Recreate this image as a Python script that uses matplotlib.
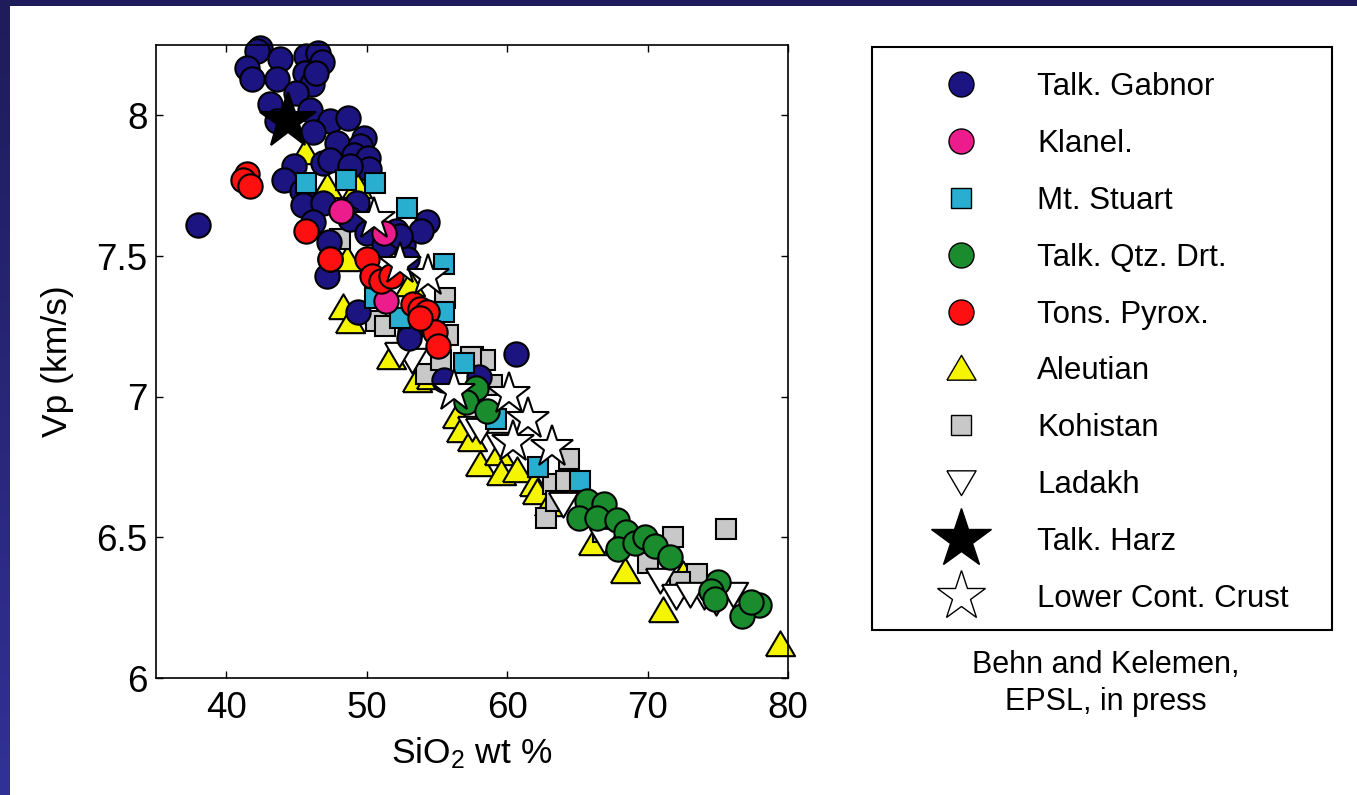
import numpy as np
import matplotlib
matplotlib.use("Agg")
from matplotlib import pyplot as plt
from matplotlib.lines import Line2D
from matplotlib.patches import Rectangle
from matplotlib.ticker import FuncFormatter

plt.rcParams["font.family"] = ["Liberation Sans", "DejaVu Sans"]
plt.rcParams["mathtext.fontset"] = "custom"
plt.rcParams["mathtext.rm"] = "Liberation Sans"
plt.rcParams["mathtext.it"] = "Liberation Sans:italic"

# SiO2 (wt %) and Vp (km/s)
gab_x = [42.4, 42.2, 43.8, 45.7, 46.5, 46.8, 41.5, 41.8, 43.6, 45.6, 46.1, 46.4, 43.1, 45.0,
         46.0, 43.6, 47.4, 48.7, 46.2, 47.9, 49.8, 49.5, 49.1, 50.1, 44.8, 46.9, 47.4, 44.1,
         50.2, 48.8, 45.4, 45.5, 46.9, 49.3, 38.0, 46.2, 48.8, 50.0, 52.1, 52.6, 54.3, 53.9,
         47.3, 47.2, 49.4, 53.1, 51.2, 52.9, 53.0, 55.5, 58.0, 60.6, 52.4, 47.4]
gab_y = [8.24, 8.23, 8.20, 8.21, 8.22, 8.19, 8.17, 8.13, 8.13, 8.15, 8.11, 8.15, 8.04, 8.08,
         8.02, 7.98, 7.98, 7.99, 7.94, 7.90, 7.92, 7.89, 7.86, 7.85, 7.82, 7.83, 7.84, 7.77,
         7.81, 7.82, 7.73, 7.68, 7.69, 7.69, 7.61, 7.62, 7.63, 7.58, 7.59, 7.54, 7.62, 7.59,
         7.55, 7.43, 7.30, 7.23, 7.54, 7.49, 7.21, 7.06, 7.07, 7.15, 7.57, 7.49]

kla_x = [48.2, 51.2, 51.4]
kla_y = [7.66, 7.58, 7.34]

stu_x = [45.7, 48.5, 50.6, 52.9, 55.5, 50.6, 52.4, 55.5, 56.9, 59.2, 62.2, 65.2]
stu_y = [7.76, 7.77, 7.76, 7.67, 7.47, 7.35, 7.28, 7.30, 7.12, 6.92, 6.75, 6.70]

qtz_x = [57.8, 57.1, 58.6, 65.7, 66.9, 65.1, 66.4, 67.8, 68.5, 67.9, 69.1, 69.8, 70.5, 71.6,
         75.0, 74.5, 77.9, 76.7, 74.8, 77.4]
qtz_y = [7.03, 6.98, 6.95, 6.63, 6.62, 6.57, 6.57, 6.56, 6.52, 6.46, 6.48, 6.50, 6.47, 6.43,
         6.34, 6.31, 6.26, 6.22, 6.28, 6.27]

pyr_x = [41.5, 41.2, 41.7, 45.7, 47.4, 50.0, 50.4, 51.0, 51.7, 53.3, 53.8, 54.3, 54.9, 55.1, 53.8]
pyr_y = [7.79, 7.77, 7.75, 7.59, 7.49, 7.49, 7.43, 7.41, 7.43, 7.33, 7.31, 7.30, 7.23, 7.18, 7.28]

ale_x = [45.6, 47.2, 49.3, 48.6, 53.1, 48.3, 48.8, 51.7, 53.6, 54.6, 56.4, 56.7, 57.5, 58.1,
         59.4, 59.6, 60.7, 61.9, 62.1, 63.0, 66.1, 68.4, 71.1, 72.5, 79.4]
ale_y = [7.87, 7.75, 7.75, 7.49, 7.40, 7.32, 7.27, 7.14, 7.06, 7.07, 6.93, 6.88, 6.85, 6.76,
         6.80, 6.73, 6.74, 6.69, 6.66, 6.62, 6.48, 6.38, 6.24, 6.37, 6.12]

koh_x = [48.1, 50.7, 51.3, 55.6, 55.8, 57.6, 58.4, 54.2, 55.3, 58.9, 59.1, 64.4, 63.3, 62.8,
         64.2, 63.5, 75.6, 71.8, 70.0, 73.5, 72.3, 67.3, 66.8, 57.4]
koh_y = [7.56, 7.27, 7.25, 7.35, 7.22, 7.14, 7.13, 7.08, 7.13, 7.04, 6.92, 6.78, 6.69, 6.57,
         6.70, 6.63, 6.53, 6.50, 6.41, 6.37, 6.34, 6.52, 6.52, 7.14]

lad_x = [53.2, 52.3, 57.5, 59.5, 64.0, 66.9, 70.9, 72.0, 74.0, 74.9, 76.1, 73.0, 58.1]
lad_y = [7.13, 7.15, 6.89, 6.83, 6.62, 6.49, 6.35, 6.29, 6.29, 6.27, 6.30, 6.30, 6.88]

harz_x = [44.4]
harz_y = [7.98]

lcc_x = [50.5, 52.4, 54.4, 56.2, 60.1, 61.5, 60.4, 63.2]
lcc_y = [7.63, 7.47, 7.43, 7.02, 7.01, 6.92, 6.84, 6.82]

labels = ["Talk. Gabnor", "Klanel.", "Mt. Stuart", "Talk. Qtz. Drt.", "Tons. Pyrox.",
          "Aleutian", "Kohistan", "Ladakh", "Talk. Harz", "Lower Cont. Crust"]

# closed, slightly flattened triangles
tri_up = [(-1, -0.8), (1, -0.8), (0, 0.9), (-1, -0.8)]
tri_dn = [(-1, 0.8), (1, 0.8), (0, -0.9), (-1, 0.8)]

# label -> (x, y, marker, face, size in plot, size in legend)
series = {
    "Talk. Gabnor": (gab_x, gab_y, "o", "#1c1480", 17.5, 18),
    "Klanel.": (kla_x, kla_y, "o", "#ec1c8c", 17.5, 18),
    "Mt. Stuart": (stu_x, stu_y, "s", "#2aaed0", 14, 14),
    "Talk. Qtz. Drt.": (qtz_x, qtz_y, "o", "#1a8c2e", 17.5, 18),
    "Tons. Pyrox.": (pyr_x, pyr_y, "o", "#ff1010", 17.5, 18),
    "Aleutian": (ale_x, ale_y, tri_up, "#f5f500", 21, 21),
    "Kohistan": (koh_x, koh_y, "s", "#c8c8c8", 14, 14),
    "Ladakh": (lad_x, lad_y, tri_dn, "white", 21, 21),
    "Talk. Harz": (harz_x, harz_y, "*", "black", 42, 45),
    "Lower Cont. Crust": (lcc_x, lcc_y, "*", "white", 32, 37),
}
draw_order = ["Aleutian", "Kohistan", "Ladakh", "Talk. Gabnor", "Mt. Stuart", "Klanel.",
              "Tons. Pyrox.", "Talk. Qtz. Drt.", "Talk. Harz", "Lower Cont. Crust"]

W, H = 1357, 795
fig = plt.figure(figsize=(W / 100, H / 100), dpi=100)
fig.patch.set_facecolor("white")

# dark slide border, top and left
fig.add_artist(Rectangle((0, 1 - 6 / H), 1, 6 / H, transform=fig.transFigure,
                         facecolor="#1e1c5a", edgecolor="none"))
bax = fig.add_axes([0, 0, 10 / W, 1])
grad = np.linspace(0, 1, 256)[:, None]
c0 = np.array([0.118, 0.110, 0.353])
c1 = np.array([0.196, 0.192, 0.588])
bax.imshow((c0 + (c1 - c0) * grad[:, :, None]).reshape(256, 1, 3), aspect="auto")
bax.axis("off")

ax = fig.add_axes([156 / W, 1 - 678 / H, 632 / W, 633 / H])
for name in draw_order:
    x, y, m, fc, ms, _ = series[name]
    ax.plot(x, y, ls="none", marker=m, ms=ms, mfc=fc, mec="black", mew=1.5, clip_on=False)

ax.set_xlim(35, 80)
ax.set_ylim(6, 8.25)
ax.set_xticks([40, 50, 60, 70, 80])
ax.set_yticks([6, 6.5, 7, 7.5, 8])
ax.yaxis.set_major_formatter(FuncFormatter(lambda v, p: "%g" % v))
ax.tick_params(direction="in", length=5, width=1, top=True, right=True, labelsize=26.5)
ax.tick_params(axis="x", pad=9)
ax.tick_params(axis="y", pad=6)
for s in ax.spines.values():
    s.set_linewidth(1.2)

ax.set_xlabel("SiO$_2$ wt %", fontsize=25.5)
ax.set_ylabel("Vp (km/s)", fontsize=25.5)
ax.xaxis.set_label_coords(0.5, -0.09)
ax.yaxis.set_label_coords(-0.13, 0.5)

# legend, frame drawn separately
fig.add_artist(Rectangle((872 / W, 1 - 630 / H), 460 / W, 583 / H, transform=fig.transFigure,
                         facecolor="none", edgecolor="black", linewidth=1.5))
handles = []
for name in labels:
    x, y, m, fc, _, lms = series[name]
    handles.append(Line2D([], [], ls="none", marker=m, ms=lms, mfc=fc, mec="black", mew=1.0))
ax.legend(handles, labels, loc="upper left", bbox_to_anchor=(930 / W, 1 - 72 / H),
          bbox_transform=fig.transFigure, frameon=False, borderpad=0, borderaxespad=0,
          handlelength=2.0, handletextpad=1.43, labelspacing=0.86, fontsize=22.5)

fig.text(1106 / W, 1 - 650 / H, "Behn and Kelemen,\nEPSL, in press", ha="center", va="top",
         fontsize=22, linespacing=1.3)

fig.savefig("out.png", dpi=100)
